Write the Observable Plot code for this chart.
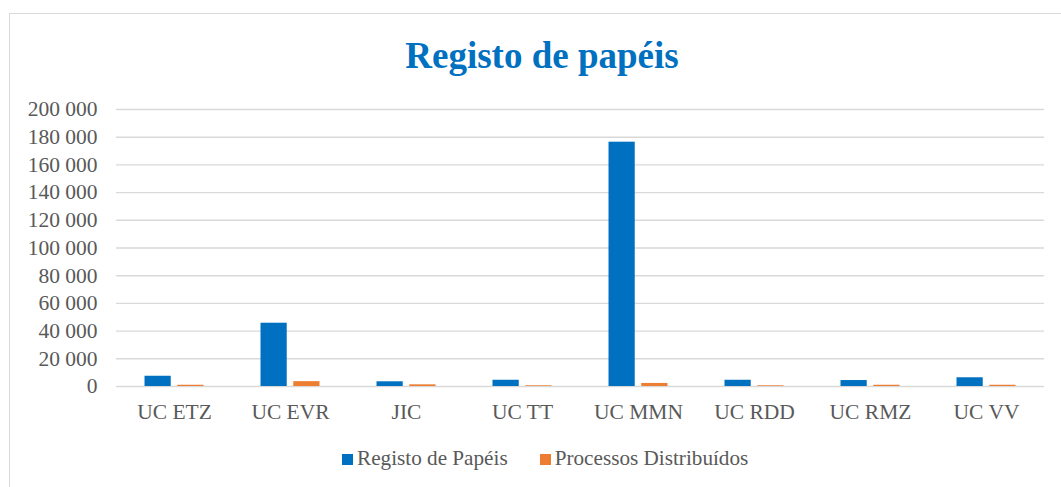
<!DOCTYPE html>
<html>
<head>
<meta charset="utf-8">
<script src="https://cdn.jsdelivr.net/npm/d3@7"></script>
<script src="https://cdn.jsdelivr.net/npm/@observablehq/plot@0.6"></script>
<style>
  html, body { margin: 0; padding: 0; background: #fff; overflow: hidden; }
  body { width: 1061px; height: 487px; position: relative; font-family: "Liberation Serif", "Times New Roman", serif; }
  #frame { position: absolute; left: 9px; top: 13px; width: 1054px; height: 500px; border: 1.5px solid #d9d9d9; box-sizing: border-box; }
  #title { position: absolute; left: 542px; top: 37px; transform: translateX(-50%); white-space: nowrap;
           font-weight: bold; font-size: 37px; line-height: 37px; color: #0070C0; }
  #chart { position: absolute; left: 0; top: 80px; }
  #legend { position: absolute; top: 448px; left: 342px; display: flex; align-items: center; font-size: 21.2px; line-height: 21px; color: #595959; white-space: nowrap; }
  .sw { display: inline-block; width: 11px; height: 11px; margin-right: 4px; position: relative; top: 1px; }
</style>
</head>
<body>
<div id="frame"></div>
<div id="title">Registo de papéis</div>
<div id="chart"></div>
<div id="legend"></div>
<script>
const categories = ["UC ETZ", "UC EVR", "JIC", "UC TT", "UC MMN", "UC RDD", "UC RMZ", "UC VV"];
const seriesNames = ["Registo de Papéis", "Processos Distribuídos"];
const registoPapeis = [7400, 45700, 3400, 4500, 176400, 4500, 4300, 6300];
const processosDistribuidos = [900, 3500, 1200, 500, 2200, 500, 900, 900];
const seriesColors = ["#0070C0", "#ED7D31"];
const yTicks = [0, 20000, 40000, 60000, 80000, 100000, 120000, 140000, 160000, 180000, 200000];

const rows = [];
categories.forEach((c, i) => {
  rows.push({cat: c, series: seriesNames[0], value: registoPapeis[i]});
  rows.push({cat: c, series: seriesNames[1], value: processosDistribuidos[i]});
});

const fmt = d3.formatLocale({decimal: ",", thousands: " ", grouping: [3], currency: ["", ""]}).format(",");

const chart = Plot.plot({
  width: 1061,
  height: 350,
  marginLeft: 114,
  marginRight: 15,
  marginTop: 29,
  marginBottom: 44,
  style: {fontFamily: "'Liberation Serif', 'Times New Roman', serif", fontSize: "21.5px", color: "#595959", background: "transparent"},
  fx: {domain: categories, padding: 0, label: null, tickSize: 0, tickPadding: 17, axis: "bottom"},
  x: {domain: seriesNames, paddingInner: 0.2, paddingOuter: 0.87, round: false, axis: null},
  y: {domain: [0, 200000], label: null, axis: null},
  color: {domain: seriesNames, range: seriesColors},
  marks: [
    Plot.ruleY(yTicks, {stroke: "#d9d9d9", strokeWidth: 1.4}),
    Plot.barY(rows, {fx: "cat", x: "series", y: "value", fill: "series"}),
    Plot.axisY(yTicks, {tickSize: 0, tickPadding: 19, tickFormat: fmt, label: null, fill: "#595959", fontSize: 21.5})
  ]
});
document.getElementById("chart").appendChild(chart);

const legend = document.getElementById("legend");
seriesNames.forEach((s, i) => {
  const item = document.createElement("span");
  item.style.display = "inline-flex";
  item.style.alignItems = "center";
  item.style.marginRight = i === 0 ? "32px" : "0";
  const sw = document.createElement("span");
  sw.className = "sw";
  sw.style.background = seriesColors[i];
  item.appendChild(sw);
  item.appendChild(document.createTextNode(s));
  legend.appendChild(item);
});
</script>
</body>
</html>
